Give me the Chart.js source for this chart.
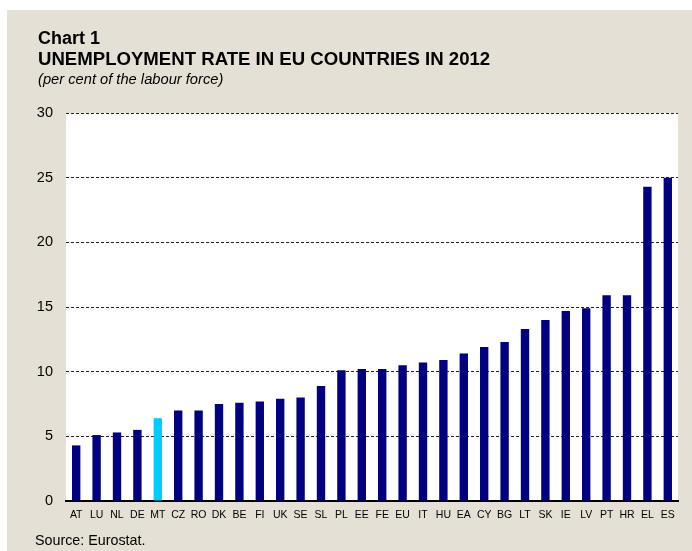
<!DOCTYPE html>
<html>
<head>
<meta charset="utf-8">
<script src="https://cdn.jsdelivr.net/npm/chart.js"></script>
<style>
  body { margin: 0; background: #fff; font-family: "Liberation Sans", Arial, sans-serif; }
  #wrap { position: relative; width: 692px; height: 551px; }
  #chart { position: absolute; left: 0; top: 0; }
  .txt { position: absolute; left: 38px; color: #000; white-space: nowrap; }
  #t1 { top: 28px; font-size: 18px; font-weight: bold; line-height: 20px; }
  #t2 { top: 49px; font-size: 18.6px; font-weight: bold; line-height: 20px; }
  #t3 { top: 70px; font-size: 14.7px; font-style: italic; line-height: 18px; }
  #src { left: 35px; top: 531px; font-size: 14.3px; line-height: 18px; }
</style>
</head>
<body>
<div id="wrap">
  <canvas id="chart" width="692" height="551"></canvas>
  <div class="txt" id="t1">Chart 1</div>
  <div class="txt" id="t2">UNEMPLOYMENT RATE IN EU COUNTRIES IN 2012</div>
  <div class="txt" id="t3">(per cent of the labour force)</div>
  <div class="txt" id="src">Source: Eurostat.</div>
</div>
<script>
const countries = ['AT', 'LU', 'NL', 'DE', 'MT', 'CZ', 'RO', 'DK', 'BE', 'FI', 'UK', 'SE', 'SL', 'PL', 'EE', 'FE',
    'EU', 'IT', 'HU', 'EA', 'CY', 'BG', 'LT', 'SK', 'IE', 'LV', 'PT', 'HR', 'EL', 'ES'];
const rates = [4.3, 5.1, 5.3, 5.5, 6.4, 7.0, 7.0, 7.5, 7.6, 7.7, 7.9, 8.0, 8.9, 10.1, 10.2, 10.2,
    10.5, 10.7, 10.9, 11.4, 11.9, 12.3, 13.3, 14.0, 14.7, 14.9, 15.9, 15.9, 24.3, 25.0];
const yTicks = [0, 5, 10, 15, 20, 25, 30];
const highlight = 'MT';

const barColors = countries.map(c => c === highlight ? '#00ccff' : '#000080');

// beige frame + white plot area
const backdrop = {
    id: 'backdrop',
    beforeDraw(chart) {
        const c = chart.ctx;
        const a = chart.chartArea;
        c.save();
        c.fillStyle = '#e5e0d5';
        c.fillRect(7, 10, chart.width - 7, chart.height - 10);
        c.fillStyle = '#ffffff';
        c.fillRect(a.left, a.top, a.right - a.left, a.bottom - a.top);
        c.restore();
    }
};

new Chart(document.getElementById('chart').getContext('2d'), {
    type: 'bar',
    data: {
        labels: countries,
        datasets: [{
            data: rates,
            backgroundColor: barColors,
            borderWidth: 0,
            categoryPercentage: 1,
            barPercentage: 0.41
        }]
    },
    options: {
        responsive: false,
        animation: false,
        layout: { padding: { top: 113, right: 14, left: 0, bottom: 0 } },
        plugins: { legend: { display: false }, tooltip: { enabled: false } },
        scales: {
            x: {
                grid: { display: false, drawTicks: false },
                border: { display: true, color: '#000', width: 2 },
                ticks: {
                    color: '#000',
                    font: { family: 'Liberation Sans', size: 10.5 },
                    padding: 8,
                    maxRotation: 0,
                    autoSkip: false
                },
                afterFit(scale) { scale.height = 50; }
            },
            y: {
                min: 0,
                max: 30,
                afterBuildTicks(scale) { scale.ticks = yTicks.map(v => ({ value: v })); },
                grid: { color: '#222', lineWidth: 1, drawTicks: false },
                border: { display: false, dash: [3, 2] },
                ticks: {
                    color: '#000',
                    font: { family: 'Liberation Sans', size: 14.5 },
                    padding: 13
                },
                afterFit(scale) { scale.width = 66; }
            }
        }
    },
    plugins: [backdrop]
});
</script>
</body>
</html>
